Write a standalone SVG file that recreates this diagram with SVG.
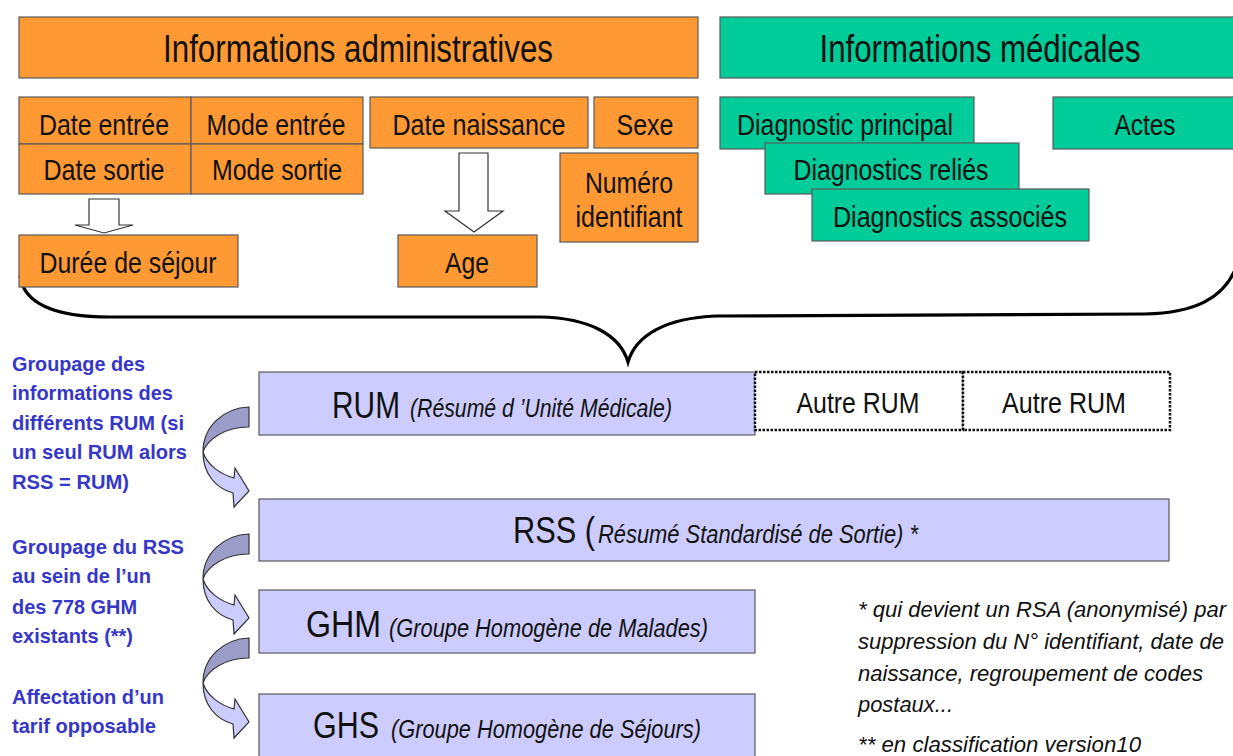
<svg xmlns="http://www.w3.org/2000/svg" width="1233" height="756" viewBox="0 0 1233 756">
<style>
.or{fill:#FF9933;stroke:#5a5a5a;stroke-width:1.2}
.gr{fill:#00CC99;stroke:#5a5a5a;stroke-width:1.2}
.lv{fill:#CCCCFF;stroke:#5a5a5a;stroke-width:1.2}
.dot{fill:#fff;stroke:#111;stroke-width:2.5;stroke-dasharray:2.5 1.5}
.t{font-family:"Liberation Sans Narrow","Liberation Sans",Arial,sans-serif;fill:#111}
.h{font-size:38px}
.n{font-size:29px}
.b{font-size:36px}
.i{font-size:25px;font-style:italic}
.f{font-size:22px;font-style:italic}
.bl{font-family:"Liberation Sans",Arial,sans-serif;font-weight:bold;font-size:21px;fill:#3636C8}
.brace{fill:none;stroke:#000;stroke-width:3.2}
.hol{fill:#fff;stroke:#333;stroke-width:1.2}
.cd{fill:#9C9CC9;stroke:#333;stroke-width:1.2}
.cl{fill:#CCCCFF;stroke:#333;stroke-width:1.2}
</style>
<defs>
<g id="carrow">
<path class="cd" d="M46,0 C21,1 0,19 0,45 C4,33 21,20 46,20 Z"/>
<path class="cl" d="M0,45 C0,66 12,81 30,86 L31,100 L46,84 L32,61 L31,71 C17,67 4,58 0,45 Z"/>
</g>
</defs>
<rect width="1233" height="756" fill="#fff"/>

<g id="connectors">
<path class="brace" d="M20,276 C24,304 54,317 110,317 L540,317 C590,318 620,335 628,362 C636,335 666,318 716,316 L1145,314 C1192,313 1226,300 1238,262"/>
<path class="hol" d="M89,199 L119,199 L119,225 L133,225 L104,233 L75,225 L89,225 Z"/>
<path class="hol" d="M459,153 L488,153 L488,211 L503,211 L474,232 L445,211 L459,211 Z"/>
<use href="#carrow" transform="translate(203,407)"/>
<use href="#carrow" transform="translate(203,534)"/>
<use href="#carrow" transform="translate(203,638)"/>
</g>

<g id="admin-header"><rect class="or" x="19" y="17" width="679" height="61"/><text class="t h" x="358" y="62" text-anchor="middle" textLength="390" lengthAdjust="spacingAndGlyphs">Informations administratives</text></g>
<g id="med-header"><rect class="gr" x="720" y="17" width="520" height="61"/><text class="t h" x="980" y="62" text-anchor="middle" textLength="321" lengthAdjust="spacingAndGlyphs">Informations médicales</text></g>

<g id="date-entree"><rect class="or" x="19" y="97" width="172" height="47"/><text class="t n" x="104" y="135" text-anchor="middle" textLength="130" lengthAdjust="spacingAndGlyphs">Date entrée</text></g>
<g id="mode-entree"><rect class="or" x="191" y="97" width="172" height="47"/><text class="t n" x="276" y="135" text-anchor="middle" textLength="139" lengthAdjust="spacingAndGlyphs">Mode entrée</text></g>
<g id="date-sortie"><rect class="or" x="19" y="144" width="172" height="50"/><text class="t n" x="104" y="180" text-anchor="middle" textLength="121" lengthAdjust="spacingAndGlyphs">Date sortie</text></g>
<g id="mode-sortie"><rect class="or" x="191" y="144" width="172" height="50"/><text class="t n" x="277" y="180" text-anchor="middle" textLength="130" lengthAdjust="spacingAndGlyphs">Mode sortie</text></g>
<g id="date-naissance"><rect class="or" x="370" y="97" width="218" height="51"/><text class="t n" x="479" y="135" text-anchor="middle" textLength="173" lengthAdjust="spacingAndGlyphs">Date naissance</text></g>
<g id="sexe"><rect class="or" x="594" y="97" width="104" height="51"/><text class="t n" x="645" y="135" text-anchor="middle" textLength="57" lengthAdjust="spacingAndGlyphs">Sexe</text></g>
<g id="numero"><rect class="or" x="560" y="153" width="138" height="89"/><text class="t n" x="629" y="193" text-anchor="middle" textLength="88" lengthAdjust="spacingAndGlyphs">Numéro</text><text class="t n" x="629" y="227" text-anchor="middle" textLength="107" lengthAdjust="spacingAndGlyphs">identifiant</text></g>
<g id="duree"><rect class="or" x="19" y="235" width="219" height="52"/><text class="t n" x="128" y="273" text-anchor="middle" textLength="177" lengthAdjust="spacingAndGlyphs">Durée de séjour</text></g>
<g id="age"><rect class="or" x="398" y="235" width="139" height="52"/><text class="t n" x="467" y="273" text-anchor="middle" textLength="44" lengthAdjust="spacingAndGlyphs">Age</text></g>

<g id="diag-principal"><rect class="gr" x="720" y="97" width="254" height="52"/><text class="t n" x="845" y="135" text-anchor="middle" textLength="216" lengthAdjust="spacingAndGlyphs">Diagnostic principal</text></g>
<g id="diag-relies"><rect class="gr" x="765" y="143" width="254" height="51"/><text class="t n" x="891" y="180" text-anchor="middle" textLength="195" lengthAdjust="spacingAndGlyphs">Diagnostics reliés</text></g>
<g id="diag-associes"><rect class="gr" x="812" y="189" width="277" height="52"/><text class="t n" x="950" y="227" text-anchor="middle" textLength="234" lengthAdjust="spacingAndGlyphs">Diagnostics associés</text></g>
<g id="actes"><rect class="gr" x="1053" y="97" width="190" height="52"/><text class="t n" x="1145" y="135" text-anchor="middle" textLength="61" lengthAdjust="spacingAndGlyphs">Actes</text></g>

<g id="rum"><rect class="lv" x="259" y="372" width="496" height="63"/><text class="t b" x="332" y="418" textLength="68" lengthAdjust="spacingAndGlyphs">RUM</text><text class="t i" x="410" y="417" textLength="262" lengthAdjust="spacingAndGlyphs">(Résumé d ’Unité Médicale)</text></g>
<g id="autre-rum-1"><rect class="dot" x="755" y="372" width="208" height="58"/><text class="t n" x="858" y="413" text-anchor="middle" textLength="123" lengthAdjust="spacingAndGlyphs">Autre RUM</text></g>
<g id="autre-rum-2"><rect class="dot" x="963" y="372" width="207" height="58"/><text class="t n" x="1064" y="413" text-anchor="middle" textLength="124" lengthAdjust="spacingAndGlyphs">Autre RUM</text></g>
<g id="rss"><rect class="lv" x="259" y="499" width="910" height="62"/><text class="t b" x="513" y="543" textLength="82" lengthAdjust="spacingAndGlyphs">RSS (</text><text class="t i" x="598" y="543" textLength="320" lengthAdjust="spacingAndGlyphs">Résumé Standardisé de Sortie) *</text></g>
<g id="ghm"><rect class="lv" x="259" y="590" width="496" height="63"/><text class="t b" x="306" y="637" textLength="75" lengthAdjust="spacingAndGlyphs">GHM</text><text class="t i" x="389" y="637" textLength="319" lengthAdjust="spacingAndGlyphs">(Groupe Homogène de Malades)</text></g>
<g id="ghs"><rect class="lv" x="259" y="694" width="496" height="66"/><text class="t b" x="313" y="738" textLength="66" lengthAdjust="spacingAndGlyphs">GHS</text><text class="t i" x="391" y="738" textLength="310" lengthAdjust="spacingAndGlyphs">(Groupe Homogène de Séjours)</text></g>

<g id="blue-notes">
<text class="bl" x="12" y="371" textLength="133" lengthAdjust="spacingAndGlyphs">Groupage des</text>
<text class="bl" x="12" y="400" textLength="161" lengthAdjust="spacingAndGlyphs">informations des</text>
<text class="bl" x="12" y="430" textLength="172" lengthAdjust="spacingAndGlyphs">différents RUM (si</text>
<text class="bl" x="12" y="459" textLength="175" lengthAdjust="spacingAndGlyphs">un seul RUM alors</text>
<text class="bl" x="12" y="489" textLength="117" lengthAdjust="spacingAndGlyphs">RSS = RUM)</text>
<text class="bl" x="12" y="554" textLength="172" lengthAdjust="spacingAndGlyphs">Groupage du RSS</text>
<text class="bl" x="12" y="583" textLength="139" lengthAdjust="spacingAndGlyphs">au sein de l’un</text>
<text class="bl" x="12" y="614" textLength="125" lengthAdjust="spacingAndGlyphs">des 778 GHM</text>
<text class="bl" x="12" y="643" textLength="121" lengthAdjust="spacingAndGlyphs">existants (**)</text>
<text class="bl" x="12" y="704" textLength="152" lengthAdjust="spacingAndGlyphs">Affectation d’un</text>
<text class="bl" x="12" y="733" textLength="144" lengthAdjust="spacingAndGlyphs">tarif opposable</text>
</g>

<g id="footnotes">
<text class="t f" x="858" y="617" textLength="368" lengthAdjust="spacingAndGlyphs">* qui devient un RSA (anonymisé) par</text>
<text class="t f" x="858" y="649" textLength="366" lengthAdjust="spacingAndGlyphs">suppression du N° identifiant, date de</text>
<text class="t f" x="858" y="681" textLength="345" lengthAdjust="spacingAndGlyphs">naissance, regroupement de codes</text>
<text class="t f" x="858" y="712" textLength="95" lengthAdjust="spacingAndGlyphs">postaux...</text>
<text class="t f" x="858" y="752" textLength="283" lengthAdjust="spacingAndGlyphs">** en classification version10</text>
</g>
</svg>
